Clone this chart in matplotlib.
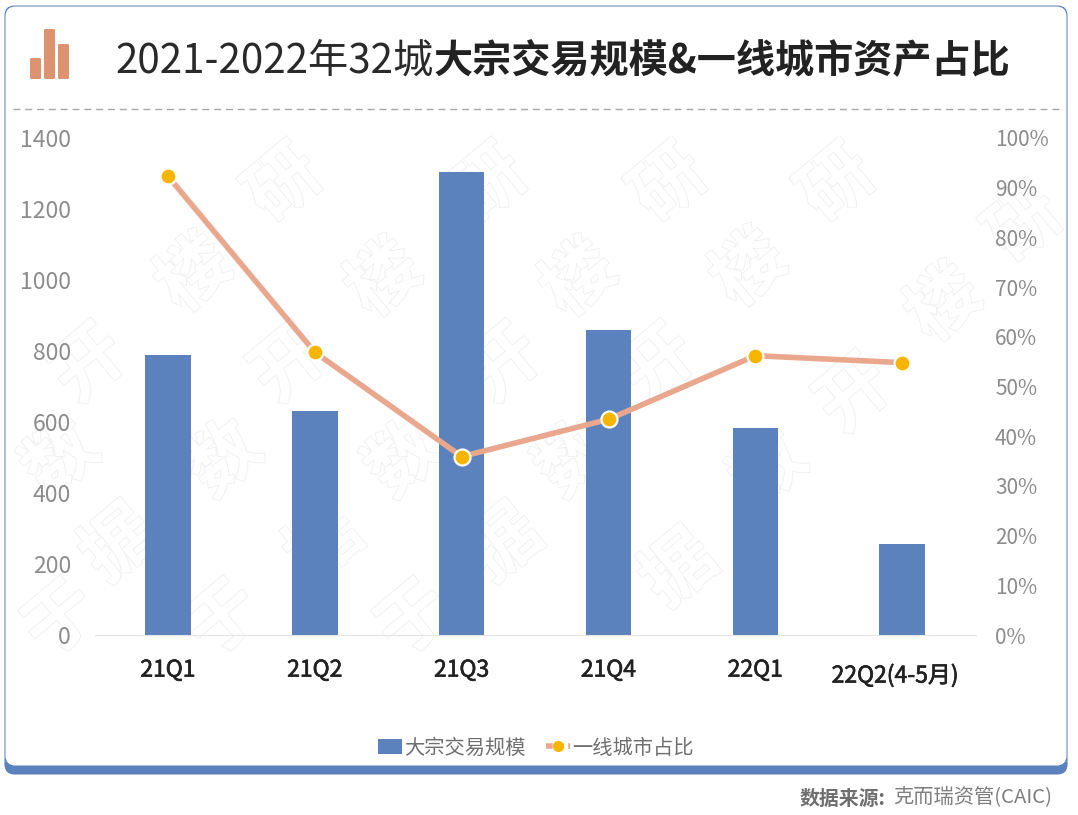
import matplotlib
matplotlib.use("Agg")
import matplotlib.pyplot as plt
import matplotlib.patheffects as pe
from matplotlib.patches import FancyBboxPatch
from matplotlib.transforms import ScaledTranslation

plt.rcParams['font.family'] = ['Noto Sans CJK SC', 'DejaVu Sans']

# data
quarters = ["21Q1", "21Q2", "21Q3", "21Q4", "22Q1", "22Q2(4-5月)"]
volume = [788, 632, 1303, 860, 582, 257]
tier1_share = [92.3, 56.9, 35.9, 43.4, 56.2, 54.8]
left_ticks = [0, 200, 400, 600, 800, 1000, 1200, 1400]
right_ticks = [0, 10, 20, 30, 40, 50, 60, 70, 80, 90, 100]
icon_heights = [21, 50, 35]
watermarks = [("研", 285, 185), ("楼", 195, 275), ("研", 490, 185),
              ("楼", 385, 280), ("楼", 580, 280), ("研", 670, 185),
              ("楼", 750, 270), ("研", 838, 185), ("楼", 945, 305),
              ("研", 1025, 225), ("开", 90, 365), ("开", 290, 365),
              ("开", 505, 365), ("开", 660, 365), ("开", 855, 395),
              ("数", 62, 460), ("数", 225, 460), ("数", 405, 460),
              ("数", 575, 460), ("数", 770, 470), ("据", 120, 545),
              ("据", 325, 545), ("据", 505, 545), ("据", 680, 570),
              ("于", 62, 620), ("于", 225, 620), ("于", 415, 620)]

W, H = 1078, 815
BLUE = "#5b82bd"
SALMON = "#e9a88e"
YELLOW = "#f7b500"
GRAY = "#8c8c8c"

fig = plt.figure(figsize=(W / 100, H / 100), dpi=100, facecolor="white")

# full figure layer in pixel coordinates, for the card and header
bg = fig.add_axes([0, 0, 1, 1], zorder=0)
bg.set_xlim(0, W)
bg.set_ylim(H, 0)
bg.axis("off")

bg.add_patch(FancyBboxPatch((4.5, 5.5), 1063, 769, boxstyle="round,pad=0,rounding_size=10",
                            fc=BLUE, ec="none", zorder=1))
bg.add_patch(FancyBboxPatch((5.5, 6.5), 1061, 759, boxstyle="round,pad=0,rounding_size=10",
                            fc="white", ec="none", zorder=2))

for ch, x, y in watermarks:
    bg.text(x, y, ch, fontsize=52, color="white", rotation=40, ha="center", va="center",
            fontweight="bold", zorder=3,
            path_effects=[pe.withStroke(linewidth=1.2, foreground="#efefef")])

# header icon
for i, h in enumerate(icon_heights):
    bg.add_patch(FancyBboxPatch((30 + i * 14, 79 - h), 11, h, boxstyle="round,pad=0,rounding_size=1.5",
                                fc="#dd9270", ec="none", zorder=4))

bg.text(115, 61, "2021-2022年32城", fontsize=29, color="#2a2a2a", ha="left", va="center", zorder=4)
bg.text(434, 61, "大宗交易规模&一线城市资产占比", fontsize=28.2, color="#222222", ha="left", va="center",
        fontweight="bold", zorder=4)
bg.plot([13, 1062], [109, 109], color="#a8a8a8", lw=1, ls=(0, (5, 3.5)), zorder=4)

bg.text(1052, 798, "克而瑞资管(CAIC)", fontsize=14.6, color="#7f7f7f", ha="right", va="center", zorder=4)
bg.text(885, 798, "数据来源:", fontsize=14.3, color="#6f6f6f", ha="right", va="center",
        fontweight="bold", zorder=4)

# main plot: 0 at y=635, 1400 at y=138
ax = fig.add_axes([94.6 / W, 1 - 635 / H, 881 / W, 497 / H], zorder=2)
ax.patch.set_alpha(0)
x = list(range(len(quarters)))
bars = ax.bar(x, volume, width=0.31, color=BLUE, zorder=2)
ax.set_xlim(-0.5, 5.5)
ax.set_ylim(0, 1400)
ax.set_yticks(left_ticks)
ax.tick_params(axis="y", length=0, labelsize=16.5, labelcolor=GRAY, pad=17)
ax.tick_params(axis="x", length=0, labelsize=16.5, labelcolor="#222222", pad=17)
ax.set_xticks(x)
ax.set_xticklabels(quarters)
for lab in ax.get_xticklabels():
    lab.set_path_effects([pe.withStroke(linewidth=0.5, foreground="#222222")])
last = ax.get_xticklabels()[-1]
last.set_transform(last.get_transform() + ScaledTranslation(-7 / 100, -5 / 100, fig.dpi_scale_trans))
for s in ["top", "left", "right"]:
    ax.spines[s].set_visible(False)
ax.spines["bottom"].set_color("#e4e4e4")

ax2 = ax.twinx()
ax2.patch.set_alpha(0)
ax2.plot(x, tier1_share, color=SALMON, lw=4, marker="o", ms=11.5,
         mfc=YELLOW, mec="white", mew=1.6, zorder=3, solid_capstyle="round")
ax2.set_ylim(0, 100)
ax2.set_yticks(right_ticks)
ax2.set_yticklabels([f"{v}%" for v in right_ticks])
ax2.tick_params(axis="y", length=0, labelsize=15, labelcolor=GRAY, pad=14)
for s in ax2.spines.values():
    s.set_visible(False)

# legend, dashed sample like the original
legend_line = plt.Line2D([], [], color=SALMON, lw=4, ls=(0, (1.2, 0.8)), marker="o", ms=7,
                         mfc=YELLOW, mec=YELLOW)
bg.legend([bars, legend_line], ["大宗交易规模", "一线城市占比"], loc="center",
          bbox_to_anchor=(536 / W, 1 - 748 / H), bbox_transform=fig.transFigure, ncol=2,
          frameon=False, fontsize=14.6, labelcolor="#6f6f6f", handlelength=1.2, handleheight=0.7,
          handletextpad=0.1, columnspacing=1.0)

fig.savefig("out.png", dpi=100)
